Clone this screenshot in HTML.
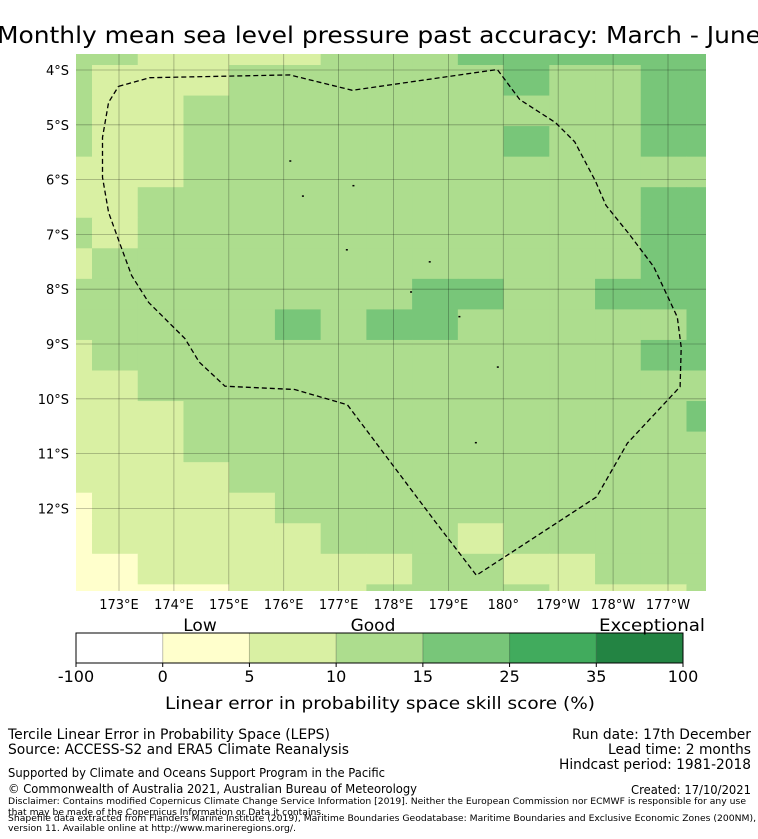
<!DOCTYPE html>
<html><head><meta charset="utf-8"><style>
html,body{margin:0;padding:0;background:#fff;width:758px;height:839px;overflow:hidden}
svg{display:block;font-family:"DejaVu Sans","Liberation Sans",sans-serif}
</style></head><body>
<svg id="chart" width="758" height="839" viewBox="0 0 758 839">
<text x="379" y="43" text-anchor="middle" font-size="23.5" textLength="764" lengthAdjust="spacingAndGlyphs">Monthly mean sea level pressure past accuracy: March - June</text>
<defs><clipPath id="mapclip"><rect x="76" y="54" width="630" height="537"/></clipPath></defs>
<g id="cells" clip-path="url(#mapclip)"></g>
<g id="grid" clip-path="url(#mapclip)"></g>
<g id="islands"></g>
<polyline id="eez" fill="none" stroke="#000" stroke-width="1.3" stroke-dasharray="5,3"/>
<g id="ylabels"></g>
<g id="xlabels"></g>
<g id="cbar"></g>
<text x="200" y="631" text-anchor="middle" font-size="17">Low</text>
<text x="373" y="631" text-anchor="middle" font-size="17">Good</text>
<text x="652" y="631" text-anchor="middle" font-size="17" textLength="106" lengthAdjust="spacingAndGlyphs">Exceptional</text>
<text x="380" y="709" text-anchor="middle" font-size="17" textLength="430" lengthAdjust="spacingAndGlyphs">Linear error in probability space skill score (%)</text>
<g font-size="14">
<text x="8" y="739" textLength="322" lengthAdjust="spacingAndGlyphs">Tercile Linear Error in Probability Space (LEPS)</text>
<text x="8" y="754" textLength="341" lengthAdjust="spacingAndGlyphs">Source: ACCESS-S2 and ERA5 Climate Reanalysis</text>
<text x="751" y="739" text-anchor="end" textLength="179" lengthAdjust="spacingAndGlyphs">Run date: 17th December</text>
<text x="751" y="754" text-anchor="end" textLength="143" lengthAdjust="spacingAndGlyphs">Lead time: 2 months</text>
<text x="751" y="769" text-anchor="end" textLength="192" lengthAdjust="spacingAndGlyphs">Hindcast period: 1981-2018</text>
<text x="8" y="777" font-size="12" textLength="377" lengthAdjust="spacingAndGlyphs">Supported by Climate and Oceans Support Program in the Pacific</text>
<text x="8" y="793" font-size="12" textLength="409" lengthAdjust="spacingAndGlyphs">© Commonwealth of Australia 2021, Australian Bureau of Meteorology</text>
<text x="751" y="794" font-size="12" text-anchor="end" textLength="120" lengthAdjust="spacingAndGlyphs">Created: 17/10/2021</text>
<text x="8" y="804" font-size="9" textLength="738" lengthAdjust="spacingAndGlyphs">Disclaimer: Contains modified Copernicus Climate Change Service Information [2019]. Neither the European Commission nor ECMWF is responsible for any use</text>
<text x="8" y="815" font-size="9" textLength="316" lengthAdjust="spacingAndGlyphs">that may be made of the Copernicus Information or Data it contains.</text>
<text x="8" y="821" font-size="9" textLength="748" lengthAdjust="spacingAndGlyphs">Shapefile data extracted from Flanders Marine Institute (2019), Maritime Boundaries Geodatabase: Maritime Boundaries and Exclusive Economic Zones (200NM),</text>
<text x="8" y="831" font-size="9" textLength="288" lengthAdjust="spacingAndGlyphs">version 11. Available online at http://www.marineregions.org/.</text>
</g>
</svg>
<script>
// Skill score per grid cell (rows north->south, columns west->east)
const skillRows = [
 [12,12,8,8,8,8,12,12,12,20,20,20,20,20,20],
 [12,8,8,8,12,12,12,12,12,12,20,12,12,20,20],
 [12,8,8,12,12,12,12,12,12,12,12,12,12,20,20],
 [12,8,8,12,12,12,12,12,12,12,20,12,12,20,20],
 [8,8,8,12,12,12,12,12,12,12,12,12,12,12,12],
 [8,8,12,12,12,12,12,12,12,12,12,12,12,20,20],
 [12,8,12,12,12,12,12,12,12,12,12,12,12,20,20],
 [8,12,12,12,12,12,12,12,12,12,12,12,12,20,20],
 [12,12,12,12,12,12,12,12,20,20,12,12,20,20,20],
 [12,12,12,12,12,20,12,20,20,12,12,12,12,12,20],
 [8,12,12,12,12,12,12,12,12,12,12,12,12,20,20],
 [8,8,12,12,12,12,12,12,12,12,12,12,12,12,12],
 [8,8,8,12,12,12,12,12,12,12,12,12,12,12,20],
 [8,8,8,12,12,12,12,12,12,12,12,12,12,12,12],
 [8,8,8,8,12,12,12,12,12,12,12,12,12,12,12],
 [3,8,8,8,8,12,12,12,12,12,12,12,12,12,12],
 [3,8,8,8,8,8,12,12,12,8,12,12,12,12,12],
 [3,3,8,8,8,8,8,8,12,12,8,8,12,12,12],
 [3,3,3,3,8,8,8,12,12,12,12,8,8,8,12]
];
const binEdges = [-100,0,5,10,15,25,35,100];
const binColors = ["#ffffff","#ffffcc","#d9f0a3","#addd8e","#78c679","#41ab5d","#238443"];
const latTicks = [4,5,6,7,8,9,10,11,12];
const latLabels = ["4°S","5°S","6°S","7°S","8°S","9°S","10°S","11°S","12°S"];
const lonTicks = [173,174,175,176,177,178,179,180,181,182,183];
const lonLabels = ["173°E","174°E","175°E","176°E","177°E","178°E","179°E","180°","179°W","178°W","177°W"];
// EEZ boundary (lon east 0-360, lat south positive)
const eezLon = [172.99,173.56,176.11,177.25,179.89,180.3,180.95,181.3,181.68,181.87,182.29,182.74,182.96,183.17,183.24,183.22,182.26,181.7,179.51,178.76,177.16,176.2,174.93,174.46,174.2,173.94,173.54,173.23,173.01,172.81,172.7,172.7,172.81,172.99];
const eezLat = [4.3,4.14,4.09,4.37,3.99,4.54,4.96,5.31,6.03,6.47,6.99,7.59,8.06,8.51,9.06,9.78,10.81,11.79,13.22,12.24,10.11,9.83,9.77,9.33,8.9,8.64,8.24,7.75,7.15,6.6,5.96,5.23,4.59,4.3];
const islandLon = [176.12,177.27,176.35,177.15,178.66,178.32,179.2,179.9,179.5];
const islandLat = [5.66,6.11,6.3,7.28,7.5,8.05,8.5,9.42,10.8];

const NS="http://www.w3.org/2000/svg";
const X0=76,X1=706,Y0=54,Y1=591;
const colX0=92-45.73, colW=45.73, rowY0=65-30.55, rowH=30.55;
function lonX(l){return 119+(l-173)*54.9;}
function latY(l){return 70+(l-4)*54.8;}
function colorFor(v){for(let i=0;i<binColors.length;i++){if(v<binEdges[i+1])return binColors[i];}return binColors[binColors.length-1];}
function mk(tag,attrs,parent){const e=document.createElementNS(NS,tag);for(const k in attrs)e.setAttribute(k,attrs[k]);parent.appendChild(e);return e;}

const cells=document.getElementById('cells');
skillRows.forEach((row,r)=>{row.forEach((v,c)=>{
  const e=mk('rect',{x:colX0+c*colW,y:rowY0+r*rowH,width:colW+0.6,height:rowH+0.6,fill:colorFor(v)},cells);
  
  
});});

const grid=document.getElementById('grid');
lonTicks.forEach(l=>{const e=mk('line',{x1:lonX(l),x2:lonX(l),y1:Y0,y2:Y1,stroke:"#000","stroke-opacity":0.3,"stroke-width":0.8},grid);
  
  });
latTicks.forEach(l=>{const e=mk('line',{x1:X0,x2:X1,y1:latY(l),y2:latY(l),stroke:"#000","stroke-opacity":0.3,"stroke-width":0.8},grid);
  
  });

const isl=document.getElementById('islands');
islandLon.forEach((l,i)=>{const e=mk('rect',{x:lonX(l)-1,y:latY(islandLat[i])-0.7,width:2,height:1.5,fill:"#000"},isl);
  
  });

document.getElementById('eez').setAttribute('points',eezLon.map((l,i)=>lonX(l).toFixed(1)+','+latY(eezLat[i]).toFixed(1)).join(' '));

const yl=document.getElementById('ylabels');
latTicks.forEach((l,i)=>{const t=mk('text',{x:69,y:latY(l)+5,"text-anchor":"end","font-size":13},yl);t.textContent=latLabels[i];
  
  });
const xl=document.getElementById('xlabels');
lonTicks.forEach((l,i)=>{const t=mk('text',{x:lonX(l),y:609,"text-anchor":"middle","font-size":13},xl);t.textContent=lonLabels[i];
  
  });

const cb=document.getElementById('cbar');
const cbX0=76,cbX1=683,cbY=633,cbH=30,segW=(cbX1-cbX0)/binColors.length;
binColors.forEach((c,i)=>{const e=mk('rect',{x:cbX0+i*segW,y:cbY,width:segW,height:cbH,fill:c},cb);
  
  
  if(i>0){const d=mk('line',{x1:cbX0+i*segW,x2:cbX0+i*segW,y1:cbY,y2:cbY+cbH,stroke:"#000","stroke-opacity":0.25},cb);
  
  }});
const fr=mk('rect',{x:cbX0,y:cbY,width:cbX1-cbX0,height:cbH,fill:"none",stroke:"#000","stroke-width":1},cb);


binEdges.forEach((v,i)=>{const x=cbX0+i*segW;
  const tk=mk('line',{x1:x,x2:x,y1:cbY+cbH,y2:cbY+cbH+4,stroke:"#000"},cb);
  
  
  const t=mk('text',{x:x,y:682,"text-anchor":"middle","font-size":16},cb);t.textContent=v;
  
  });
</script>
</body></html>
